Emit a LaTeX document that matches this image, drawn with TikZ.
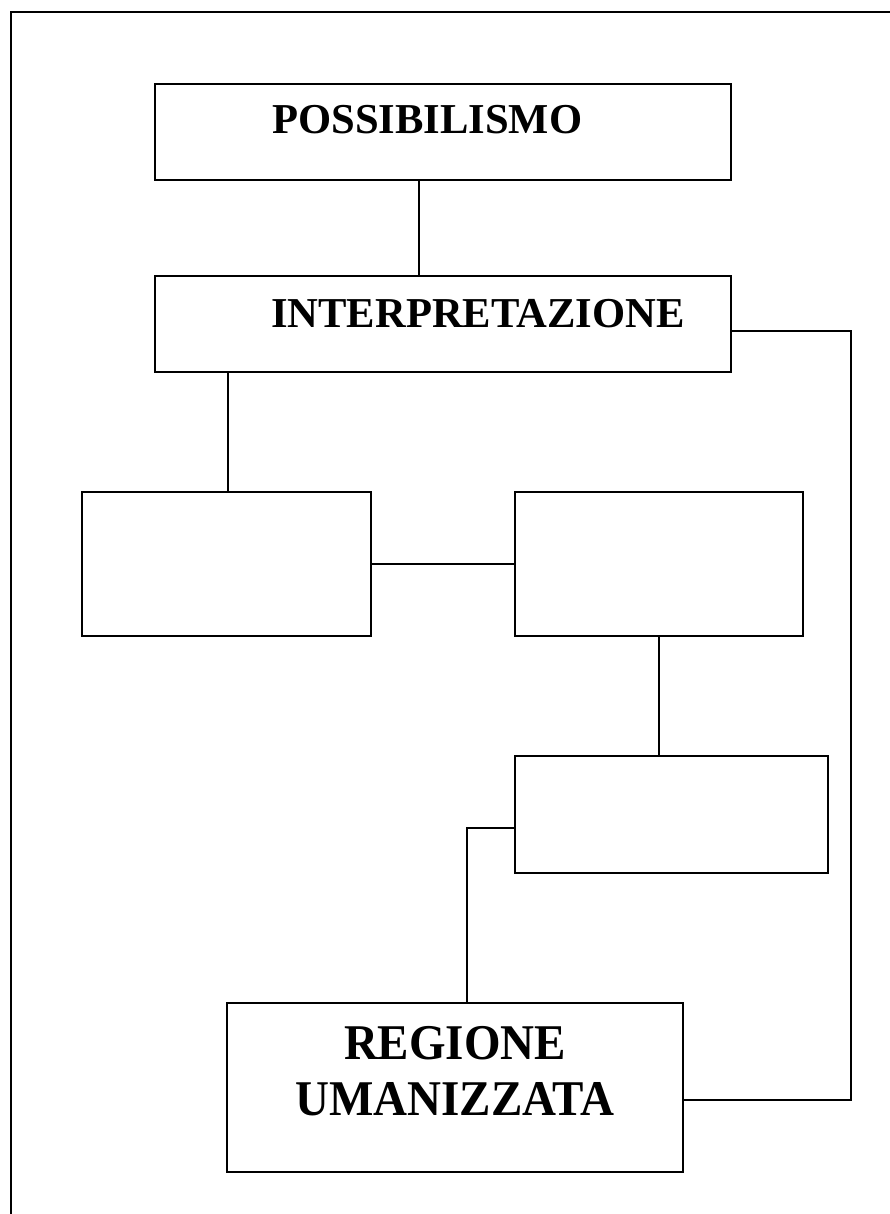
\documentclass[tikz,border=0pt]{standalone}
\usepackage{fontspec}
\setmainfont{Liberation Serif}
\newfontfamily\condserif[FakeStretch=0.94]{Liberation Serif}
\begin{document}
\begin{tikzpicture}[x=1pt,y=-1pt,
  box/.style={draw, line width=2pt, rectangle, inner sep=0pt, outer sep=0pt, anchor=north west},
  conn/.style={draw, line width=2pt},
  lbl/.style={font=\fontsize{42.6}{50}\selectfont\bfseries, inner sep=0pt, anchor=base west},
  big/.style={font=\condserif\fontsize{50}{56}\selectfont\bfseries, inner sep=0pt, anchor=base}]
\useasboundingbox (0,0) rectangle (889,1214);
% outer frame (cut off at right and bottom)
\draw[line width=2pt] (11,1220) -- (11,12) -- (895,12);
% boxes
\node[box, minimum width=576pt, minimum height=96pt] (poss) at (155,84) {};
\node[box, minimum width=576pt, minimum height=96pt] (interp) at (155,276) {};
\node[box, minimum width=289pt, minimum height=144pt] (bl) at (82,492) {};
\node[box, minimum width=288pt, minimum height=144pt] (br) at (515,492) {};
\node[box, minimum width=313pt, minimum height=117pt] (bm) at (515,756) {};
\node[box, minimum width=456pt, minimum height=169pt] (reg) at (227,1003) {};
% texts
\node[lbl] (possT) at (272,134) {POSSIBILISMO};
\node[lbl] (interpT) at (271,327) {INTERPRETAZIONE};
\node[big] (regT1) at (455,1059) {REGIONE};
\node[big] (regT2) at (455,1115) {UMANIZZATA};
% helper coordinates
\coordinate (c1) at (419,0);
\coordinate (c2) at (228,0);
\coordinate (r1) at (851,331);
\coordinate (r2) at (851,1100);
\coordinate (c3) at (467,828);
% connectors
\draw[conn] (poss.south -| c1) -- (interp.north -| c1);
\draw[conn] (interp.east |- r1) -- (r1) -- (r2) -- (reg.east |- r2);
\draw[conn] (interp.south -| c2) -- (bl.north -| c2);
\draw[conn] (bl.east) -- (br.west);
\draw[conn] (br.south) -- (br.south |- bm.north);
\draw[conn] (bm.west |- c3) -- (c3) -- (c3 |- reg.north);
\end{tikzpicture}
\end{document}
